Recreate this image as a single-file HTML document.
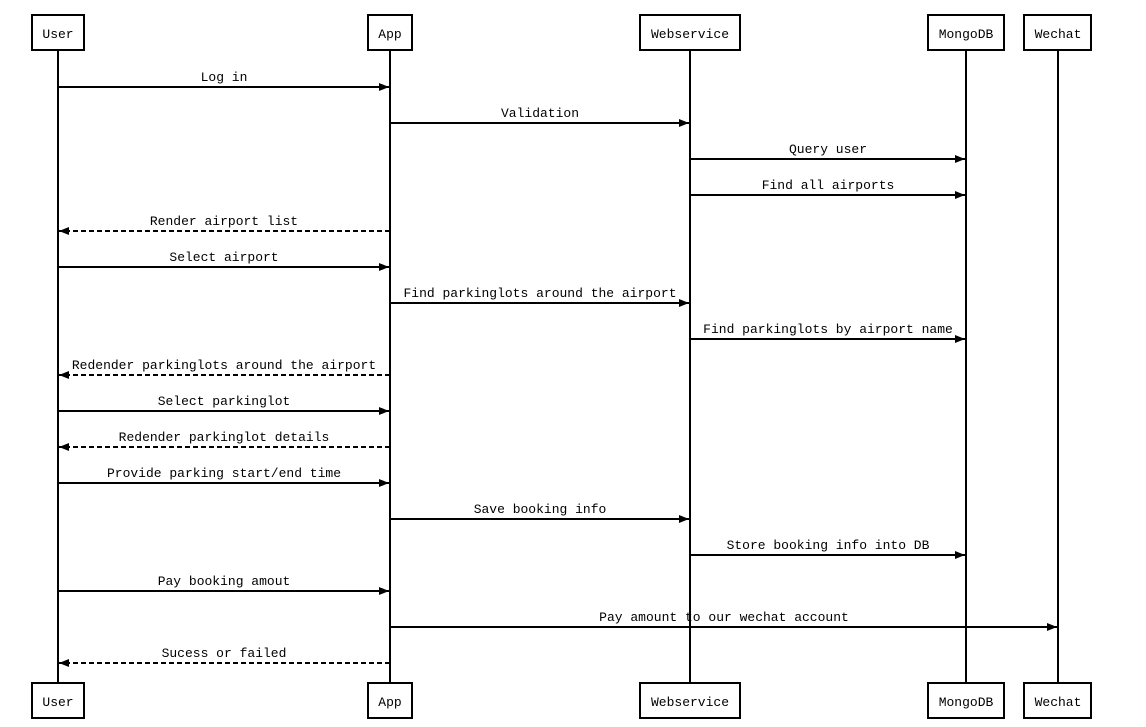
<!DOCTYPE html>
<html><head><meta charset="utf-8"><style>
html,body{margin:0;padding:0;background:#fff;}
svg{display:block;}
text{font-family:"Liberation Mono",monospace;font-size:13px;fill:#000;}
</style></head><body>
<svg width="1146" height="727" viewBox="0 0 1146 727" xmlns="http://www.w3.org/2000/svg">
<defs>
<marker id="a" markerWidth="10" markerHeight="8" refX="10" refY="4" orient="auto" markerUnits="userSpaceOnUse">
<path d="M0,0 L10,4 L0,8 Z" fill="#000"/></marker>
</defs>
<g stroke="#000" stroke-width="2" fill="#fff">
<line x1="58" y1="50" x2="58" y2="683"/>
<line x1="390" y1="50" x2="390" y2="683"/>
<line x1="690" y1="50" x2="690" y2="683"/>
<line x1="966" y1="50" x2="966" y2="683"/>
<line x1="1058" y1="50" x2="1058" y2="683"/>
<rect x="32" y="15" width="52" height="35"/>
<rect x="368" y="15" width="44" height="35"/>
<rect x="640" y="15" width="100" height="35"/>
<rect x="928" y="15" width="76" height="35"/>
<rect x="1024" y="15" width="67" height="35"/>
<rect x="32" y="683" width="52" height="35"/>
<rect x="368" y="683" width="44" height="35"/>
<rect x="640" y="683" width="100" height="35"/>
<rect x="928" y="683" width="76" height="35"/>
<rect x="1024" y="683" width="67" height="35"/>
</g>
<g text-anchor="middle">
<text x="58" y="38">User</text><text x="390" y="38">App</text><text x="690" y="38">Webservice</text><text x="966" y="38">MongoDB</text><text x="1058" y="38">Wechat</text>
<text x="58" y="706">User</text><text x="390" y="706">App</text><text x="690" y="706">Webservice</text><text x="966" y="706">MongoDB</text><text x="1058" y="706">Wechat</text>
</g>
<g stroke="#000" stroke-width="2" marker-end="url(#a)">
<line x1="58" y1="87" x2="389" y2="87"/>
<line x1="390" y1="123" x2="689" y2="123"/>
<line x1="690" y1="159" x2="965" y2="159"/>
<line x1="690" y1="195" x2="965" y2="195"/>
<line x1="390" y1="231" x2="59" y2="231" stroke-dasharray="5,3"/>
<line x1="58" y1="267" x2="389" y2="267"/>
<line x1="390" y1="303" x2="689" y2="303"/>
<line x1="690" y1="339" x2="965" y2="339"/>
<line x1="390" y1="375" x2="59" y2="375" stroke-dasharray="5,3"/>
<line x1="58" y1="411" x2="389" y2="411"/>
<line x1="390" y1="447" x2="59" y2="447" stroke-dasharray="5,3"/>
<line x1="58" y1="483" x2="389" y2="483"/>
<line x1="390" y1="519" x2="689" y2="519"/>
<line x1="690" y1="555" x2="965" y2="555"/>
<line x1="58" y1="591" x2="389" y2="591"/>
<line x1="390" y1="627" x2="1057" y2="627"/>
<line x1="390" y1="663" x2="59" y2="663" stroke-dasharray="5,3"/>
</g>
<g text-anchor="middle">
<text x="224" y="81">Log in</text>
<text x="540" y="117">Validation</text>
<text x="828" y="153">Query user</text>
<text x="828" y="189">Find all airports</text>
<text x="224" y="225">Render airport list</text>
<text x="224" y="261">Select airport</text>
<text x="540" y="297">Find parkinglots around the airport</text>
<text x="828" y="333">Find parkinglots by airport name</text>
<text x="224" y="369">Redender parkinglots around the airport</text>
<text x="224" y="405">Select parkinglot</text>
<text x="224" y="441">Redender parkinglot details</text>
<text x="224" y="477">Provide parking start/end time</text>
<text x="540" y="513">Save booking info</text>
<text x="828" y="549">Store booking info into DB</text>
<text x="224" y="585">Pay booking amout</text>
<text x="724" y="621">Pay amount to our wechat account</text>
<text x="224" y="657">Sucess or failed</text>
</g>
</svg>
</body></html>
